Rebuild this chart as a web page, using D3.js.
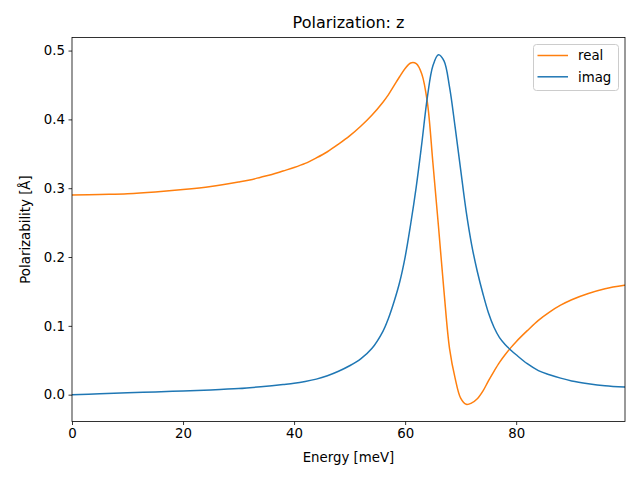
<!DOCTYPE html>
<html><head><meta charset="utf-8">
<script src="https://cdn.jsdelivr.net/npm/d3@7"></script>
<style>body{margin:0;background:#fff}svg{display:block}text{font-family:"DejaVu Sans",sans-serif;fill:#000}</style>
</head><body><svg id="c" width="640" height="480"></svg>
<script>
const energy   = [0,5,10,15,20,25,30,32,34,36,38,40,42,44,46,48,50,52,54,56,57,58,59,60,61,62,63,64,65,66,67,68,69,70,71,72,73,74,75,76,77,78,79,80,82,84,86,88,90,93,96,99.5];
const realVals = [0.290,0.291,0.292,0.2945,0.298,0.3025,0.309,0.312,0.316,0.320,0.325,0.330,0.336,0.344,0.353,0.364,0.376,0.390,0.406,0.425,0.436,0.449,0.462,0.474,0.482,0.481,0.466,0.425,0.337,0.245,0.150,0.067,0.024,-0.005,-0.014,-0.012,-0.006,0.005,0.020,0.034,0.047,0.058,0.068,0.077,0.093,0.108,0.120,0.130,0.138,0.147,0.154,0.159];
const imagVals = [0.000,0.0013,0.0027,0.004,0.0053,0.0068,0.0088,0.0101,0.0115,0.0131,0.0148,0.0166,0.0192,0.0226,0.0275,0.034,0.042,0.052,0.067,0.092,0.111,0.135,0.163,0.200,0.248,0.302,0.365,0.432,0.478,0.494,0.485,0.447,0.389,0.327,0.266,0.217,0.179,0.147,0.119,0.098,0.083,0.073,0.065,0.058,0.045,0.035,0.029,0.024,0.020,0.016,0.013,0.011];
const xTicks = [0,20,40,60,80];
const yTicks = [0.0,0.1,0.2,0.3,0.4,0.5];
const seriesNames = ["real","imag"];
const colors = ["#ff7f0e","#1f77b4"];

const L=72, R=625, T=37.5, B=421.5;
const svg = d3.select("#c");
const x = d3.scaleLinear().domain([0,99.6]).range([L,R]);
const y = d3.scaleLinear().domain([-0.039,0.519]).range([B,T]);

svg.append("clipPath").attr("id","cp").append("rect")
  .attr("x",L).attr("y",T).attr("width",R-L).attr("height",B-T);

const line = d3.line().x(d=>x(d[0])).y(d=>y(d[1])).curve(d3.curveCatmullRom.alpha(0.5));
const series = [realVals, imagVals];
series.forEach((vals,i)=>{
  svg.append("path").attr("clip-path","url(#cp)")
    .datum(energy.map((e,j)=>[e,vals[j]]))
    .attr("d",line).attr("fill","none").attr("stroke",colors[i]).attr("stroke-width",1.5)
    .attr("stroke-linejoin","round").attr("stroke-linecap","square");
});

const xa = svg.append("g").attr("transform",`translate(0,${B})`)
  .call(d3.axisBottom(x).tickValues(xTicks).tickFormat(d3.format("d")).tickSizeInner(3.5).tickSizeOuter(0).tickPadding(3.5));
const ya = svg.append("g").attr("transform",`translate(${L},0)`)
  .call(d3.axisLeft(y).tickValues(yTicks).tickFormat(d3.format(".1f")).tickSizeInner(3.5).tickSizeOuter(0).tickPadding(3.5));
[xa,ya].forEach(a=>{
  a.select(".domain").remove();
  a.selectAll("line").attr("stroke","#000").attr("stroke-width",0.8);
  a.selectAll("text").attr("font-size","13.33px").attr("font-family","DejaVu Sans").attr("fill","#000");
});

svg.append("rect").attr("x",L).attr("y",T).attr("width",R-L).attr("height",B-T)
  .attr("fill","none").attr("stroke","#000").attr("stroke-width",0.8);

svg.append("text").attr("x",(L+R)/2).attr("y",28).attr("text-anchor","middle").attr("font-size","16px").text("Polarization: z");
svg.append("text").attr("x",(L+R)/2).attr("y",462).attr("text-anchor","middle").attr("font-size","13.33px").text("Energy [meV]");
svg.append("text").attr("transform",`translate(30,${(T+B)/2}) rotate(-90)`).attr("text-anchor","middle").attr("font-size","13.33px").text("Polarizability [Å]");

const lg = svg.append("g");
lg.append("rect").attr("x",533.5).attr("y",44.5).attr("width",85).attr("height",46).attr("rx",3)
  .attr("fill","#fff").attr("fill-opacity",0.8).attr("stroke","#ccc").attr("stroke-width",1);
seriesNames.forEach((n,i)=>{
  const yy = 55.5 + i*21.3;
  lg.append("line").attr("x1",537.5).attr("x2",568).attr("y1",yy).attr("y2",yy).attr("stroke",colors[i]).attr("stroke-width",1.5);
  lg.append("text").attr("x",578).attr("y",yy+4.8).attr("font-size","13.33px").text(n);
});
</script></body></html>
